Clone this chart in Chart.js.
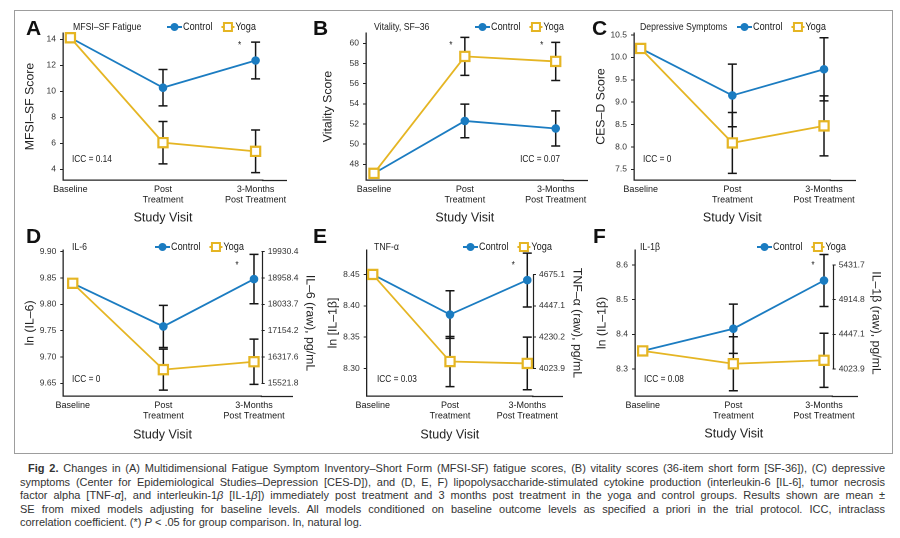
<!DOCTYPE html>
<html><head><meta charset="utf-8">
<script src="https://cdn.jsdelivr.net/npm/chart.js@4.4.1/dist/chart.umd.min.js"></script>
<style>
html,body{margin:0;padding:0;background:#fff;}
#page{position:relative;width:900px;height:538px;overflow:hidden;background:#fff;}
#frame{position:absolute;left:14px;top:10px;width:879px;height:444px;border:1.5px solid #9d9d9d;box-sizing:border-box;}
canvas{position:absolute;}
.letter{position:absolute;font:bold 21px 'Liberation Sans',Arial,sans-serif;line-height:21px;color:#111;}
.cap{position:absolute;white-space:nowrap;font:11px 'Liberation Sans',Arial,sans-serif;line-height:13px;color:#333;}
</style></head>
<body><div id="page"><div id="frame"></div></div>
<script>
// ---------- data ----------
const categories = ['Baseline', ['Post', 'Treatment'], ['3-Months', 'Post Treatment']];
const groupNames = ['Control', 'Yoga'];

// A: MFSI-SF fatigue
const fatigueControl   = [14.12, 10.28, 12.37];
const fatigueControlSE = [0, 1.40, 1.41];
const fatigueYoga      = [14.12, 6.05, 5.38];
const fatigueYogaSE    = [0, 1.63, 1.64];
const fatigueTicks     = [4, 6, 8, 10, 12, 14];
const fatigueStars     = [0, 0, 1];

// B: Vitality SF-36
const vitalityControl   = [47.1, 52.3, 51.55];
const vitalityControlSE = [0, 1.67, 1.74];
const vitalityYoga      = [47.1, 58.7, 58.2];
const vitalityYogaSE    = [0, 1.88, 1.89];
const vitalityTicks     = [48, 50, 52, 54, 56, 58, 60];
const vitalityStars     = [0, 1, 1];

// C: Depressive symptoms (CES-D)
const cesdControl   = [10.2, 9.15, 9.735];
const cesdControlSE = [0, 0.70, 0.705];
const cesdYoga      = [10.2, 8.09, 8.47];
const cesdYogaSE    = [0, 0.68, 0.67];
const cesdTicks     = [7.5, 8.0, 8.5, 9.0, 9.5, 10.0, 10.5];
const cesdStars     = [0, 0, 0];

// D: IL-6 (ln)
const il6Control   = [9.84, 9.758, 9.848];
const il6ControlSE = [0, 0.040, 0.047];
const il6Yoga      = [9.84, 9.676, 9.691];
const il6YogaSE    = [0, 0.039, 0.043];
const il6Ticks     = [9.65, 9.70, 9.75, 9.80, 9.85, 9.90];
const il6Raw       = [19930.4, 18958.4, 18033.7, 17154.2, 16317.6, 15521.8];
const il6Stars     = [0, 0, 1];

// E: TNF-alpha (ln)
const tnfControl   = [8.45, 8.386, 8.441];
const tnfControlSE = [0, 0.038, 0.043];
const tnfYoga      = [8.45, 8.311, 8.308];
const tnfYogaSE    = [0, 0.040, 0.042];
const tnfTicks     = [8.30, 8.35, 8.40, 8.45];
const tnfRaw       = [4675.1, 4447.1, 4230.2, 4023.9];
const tnfStars     = [0, 0, 1];

// F: IL-1beta (ln)
const il1Control   = [8.352, 8.416, 8.555];
const il1ControlSE = [0, 0.071, 0.075];
const il1Yoga      = [8.352, 8.315, 8.325];
const il1YogaSE    = [0, 0.078, 0.078];
const il1Ticks     = [8.3, 8.4, 8.5, 8.6];
const il1Raw       = [5431.7, 4914.8, 4447.1, 4023.9];
const il1Stars     = [0, 0, 1];

// ---------- style / layout ----------
const BLUE = '#1b7cc1', GOLD = '#e5b523', INK = '#222';
const FN = "'Liberation Sans', Arial, sans-serif";
const SZ = {title: 10.5, legend: 11, icc: 10, star: 10, tick: 8.5, cat: 9, yTitle: 12.3, xTitle: 12.5};
const CONDENSE = 0.83;

const panels = [
 {id:'A', title:'MFSI–SF Fatigue', yTitle:'MFSI–SF Score', icc:'ICC = 0.14',
  control:fatigueControl, controlSE:fatigueControlSE, yoga:fatigueYoga, yogaSE:fatigueYogaSE, ticks:fatigueTicks, dec:0, stars:fatigueStars,
  box:{x:15,y:12,w:285,h:218}, area:{L:63,T:33,R:263,B:180}, xr:[-0.08,2.08], yr:[3.177,14.485],
  yTitleX:30, xTitleY:218, xEnd:287, titleX:73, titleY:27, legendX:167, iccX:72, iccY:159, iccAlign:'left', starDx:-16, starY:43,
  letter:{x:26,y:17}},
 {id:'B', title:'Vitality, SF–36', yTitle:'Vitality Score', icc:'ICC = 0.07',
  control:vitalityControl, controlSE:vitalityControlSE, yoga:vitalityYoga, yogaSE:vitalityYogaSE, ticks:vitalityTicks, dec:0, stars:vitalityStars,
  box:{x:300,y:12,w:292,h:218}, area:{L:366,T:33,R:563.7,B:180}, xr:[-0.088,2.088], yr:[46.44,61.02],
  yTitleX:328, xTitleY:218, xEnd:588, titleX:374, titleY:27, legendX:475, iccX:560, iccY:159, iccAlign:'right', starDx:-14, starY:43,
  letter:{x:313,y:17}},
 {id:'C', title:'Depressive Symptoms', yTitle:'CES–D Score', icc:'ICC = 0',
  control:cesdControl, controlSE:cesdControlSE, yoga:cesdYoga, yogaSE:cesdYogaSE, ticks:cesdTicks, dec:1, stars:cesdStars,
  box:{x:592,y:12,w:300,h:218}, area:{L:634,T:33,R:830.7,B:180}, xr:[-0.073,2.073], yr:[7.261,10.545],
  yTitleX:601, xTitleY:218, xEnd:856, titleX:640, titleY:27, legendX:737, iccX:643, iccY:159, iccAlign:'left', starDx:-14, starY:43,
  letter:{x:592,y:17}},
 {id:'D', title:'IL-6', yTitle:'ln (IL–6)', y2Title:'IL–6 (raw), pg/mL', icc:'ICC = 0',
  control:il6Control, controlSE:il6ControlSE, yoga:il6Yoga, yogaSE:il6YogaSE, ticks:il6Ticks, dec:2, raw:il6Raw, stars:il6Stars,
  box:{x:15,y:230,w:307,h:222}, area:{L:63.3,T:250,R:261.7,B:396}, xr:[-0.104,2.085], yr:[9.6259,9.9032],
  yTitleX:30, y2TitleX:310, xTitleY:435, xEnd:293, titleX:72, titleY:247, legendX:155, iccX:72, iccY:379, iccAlign:'left', starDx:-17, starY:263,
  letter:{x:26,y:225}},
 {id:'E', title:'TNF-α', yTitle:'ln [IL–1β]', y2Title:'TNF–α (raw), pg/mL', icc:'ICC = 0.03',
  control:tnfControl, controlSE:tnfControlSE, yoga:tnfYoga, yogaSE:tnfYogaSE, ticks:tnfTicks, dec:2, raw:tnfRaw, stars:tnfStars,
  box:{x:300,y:230,w:292,h:222}, area:{L:366.7,T:250,R:533,B:396}, xr:[-0.078,2.074], yr:[8.256,8.489],
  yTitleX:333, y2TitleX:577, xTitleY:435, xEnd:563, titleX:374, titleY:247, legendX:463, iccX:377, iccY:379, iccAlign:'left', starDx:-14, starY:263,
  letter:{x:313,y:225}},
 {id:'F', title:'IL-1β', yTitle:'ln (IL–1β)', y2Title:'IL–1β (raw), pg/mL', icc:'ICC = 0.08',
  control:il1Control, controlSE:il1ControlSE, yoga:il1Yoga, yogaSE:il1YogaSE, ticks:il1Ticks, dec:1, raw:il1Raw, stars:il1Stars,
  box:{x:592,y:230,w:300,h:222}, area:{L:635,T:250,R:832.7,B:396}, xr:[-0.085,2.096], yr:[8.222,8.643],
  yTitleX:602, y2TitleX:876, xTitleY:434, xEnd:858, titleX:640, titleY:247, legendX:757, iccX:644, iccY:379, iccAlign:'left', starDx:-11, starY:263,
  letter:{x:593,y:225}}
];

const page = document.getElementById('page');

// draws condensed text (horizontal squeeze), returns drawn width
function cText(ctx, text, x, y, size, align) {
  ctx.save();
  ctx.font = size + 'px ' + FN;
  ctx.textAlign = align || 'left';
  ctx.textBaseline = 'middle';
  ctx.translate(x, y);
  ctx.scale(CONDENSE, 1);
  ctx.fillText(text, 0, 0);
  const w = ctx.measureText(text).width * CONDENSE;
  ctx.restore();
  return w;
}

function annotPlugin(p) {
  const ox = p.box.x, oy = p.box.y;
  return {
    id: 'annot' + p.id,
    beforeDatasetsDraw(chart) {
      const {ctx, scales: {x, y}} = chart;
      ctx.save();
      ctx.strokeStyle = '#151515'; ctx.lineWidth = 1.5;
      [[p.control, p.controlSE], [p.yoga, p.yogaSE]].forEach(([vals, se]) => {
        vals.forEach((v, i) => {
          if (!se[i]) return;
          const px = x.getPixelForValue(i);
          const t = y.getPixelForValue(v + se[i]);
          const b = y.getPixelForValue(v - se[i]);
          ctx.beginPath();
          ctx.moveTo(px, t); ctx.lineTo(px, b);
          ctx.moveTo(px - 4.5, t); ctx.lineTo(px + 4.5, t);
          ctx.moveTo(px - 4.5, b); ctx.lineTo(px + 4.5, b);
          ctx.stroke();
        });
      });
      ctx.restore();
    },
    afterDraw(chart) {
      const {ctx, chartArea: a, scales: {x, y}} = chart;
      ctx.save();
      // extension of the x axis line
      ctx.strokeStyle = INK; ctx.lineWidth = 1.3;
      const by = Math.round(a.bottom) + 0.5;
      ctx.beginPath(); ctx.moveTo(a.right - 1, by); ctx.lineTo(p.xEnd - ox, by); ctx.stroke();
      // right raw axis line
      if (p.raw) {
        const lv = p.raw.map(r => Math.log(r));
        const y1 = y.getPixelForValue(Math.max(...lv)), y2 = y.getPixelForValue(Math.min(...lv));
        const rx = Math.round(a.right) + 0.5;
        ctx.lineWidth = 1.2;
        ctx.beginPath(); ctx.moveTo(rx, y1); ctx.lineTo(rx, y2); ctx.stroke();
      }
      ctx.fillStyle = INK;
      // panel title
      cText(ctx, p.title, p.titleX - ox, p.titleY - oy, SZ.title, 'left');
      // legend
      let lx = p.legendX - ox; const ly = p.titleY - oy;
      ctx.strokeStyle = BLUE; ctx.lineWidth = 2;
      ctx.beginPath(); ctx.moveTo(lx, ly); ctx.lineTo(lx + 15, ly); ctx.stroke();
      ctx.fillStyle = BLUE; ctx.beginPath(); ctx.arc(lx + 7.5, ly, 4, 0, Math.PI * 2); ctx.fill();
      lx += 16; ctx.fillStyle = INK;
      lx += cText(ctx, groupNames[0], lx, ly, SZ.legend, 'left') + 9;
      ctx.strokeStyle = GOLD; ctx.lineWidth = 2;
      ctx.beginPath(); ctx.moveTo(lx, ly); ctx.lineTo(lx + 13, ly); ctx.stroke();
      ctx.fillStyle = '#fff'; ctx.fillRect(lx + 2.5, ly - 4, 8, 8);
      ctx.strokeRect(lx + 2.5, ly - 4, 8, 8);
      lx += 14; ctx.fillStyle = INK;
      cText(ctx, groupNames[1], lx, ly, SZ.legend, 'left');
      // ICC
      cText(ctx, p.icc, p.iccX - ox, p.iccY - oy, SZ.icc, p.iccAlign);
      // significance stars
      p.stars.forEach((s, i) => {
        if (!s) return;
        cText(ctx, '*', x.getPixelForValue(i) + p.starDx, p.starY - oy + 2, SZ.star, 'center');
      });
      ctx.restore();
    }
  };
}

function build(p) {
  const cv = document.createElement('canvas');
  cv.width = p.box.w; cv.height = p.box.h;
  Object.assign(cv.style, {left: p.box.x + 'px', top: p.box.y + 'px', width: p.box.w + 'px', height: p.box.h + 'px'});
  page.appendChild(cv);
  const yLH = SZ.yTitle * 1.2, xLH = SZ.xTitle * 1.2;
  const yLeft = p.yTitleX - yLH / 2;
  const yW = p.area.L - yLeft;
  const xBot = p.xTitleY + xLH / 2;
  const xH = xBot - p.area.B;
  let rightEdge = p.area.R, y2W = 0;
  if (p.raw) { rightEdge = p.y2TitleX + yLH / 2; y2W = rightEdge - p.area.R; }
  const padding = {left: yLeft - p.box.x, top: p.area.T - p.box.y, right: p.box.x + p.box.w - rightEdge, bottom: p.box.y + p.box.h - xBot};

  const scales = {
    x: {
      type: 'linear', min: p.xr[0], max: p.xr[1],
      afterFit: s => { s.height = xH; },
      afterBuildTicks: s => { s.ticks = categories.map((c, i) => ({value: i})); },
      ticks: {autoSkip: false, maxRotation: 0, minRotation: 0, padding: 4, color: '#1a1a1a',
              font: {family: FN, size: SZ.cat, lineHeight: 1.2}, callback: v => categories[v]},
      grid: {display: false, drawTicks: false},
      border: {display: true, color: INK, width: 1.3},
      title: {display: true, text: 'Study Visit', color: INK, font: {family: FN, size: SZ.xTitle, lineHeight: 1.2}, padding: 0}
    },
    y: {
      type: 'linear', position: 'left', min: p.yr[0], max: p.yr[1],
      afterFit: s => { s.width = yW; },
      afterBuildTicks: s => { s.ticks = p.ticks.map(v => ({value: v})); },
      ticks: {padding: 4, color: '#333', font: {family: FN, size: SZ.tick}, callback: v => Number(v).toFixed(p.dec)},
      grid: {display: true, drawOnChartArea: false, drawTicks: true, tickLength: 3, color: INK, lineWidth: 1},
      border: {display: true, color: INK, width: 1.3},
      title: {display: true, text: p.yTitle, color: INK, font: {family: FN, size: SZ.yTitle, lineHeight: 1.2}, padding: 0}
    }
  };
  if (p.raw) {
    scales.y2 = {
      type: 'linear', position: 'right', min: p.yr[0], max: p.yr[1],
      afterFit: s => { s.width = y2W; },
      afterBuildTicks: s => { s.ticks = p.raw.map(r => ({value: Math.log(r)})); },
      ticks: {padding: 3, color: '#333', font: {family: FN, size: SZ.tick}, callback: (v, i) => p.raw[i].toFixed(1)},
      grid: {display: true, drawOnChartArea: false, drawTicks: true, tickLength: 3, color: INK, lineWidth: 1},
      border: {display: false},
      title: {display: true, text: p.y2Title, color: INK, font: {family: FN, size: SZ.yTitle, lineHeight: 1.2}, padding: 0}
    };
  }

  new Chart(cv, {
    type: 'line',
    data: {
      datasets: [
        {label: groupNames[0], data: p.control.map((v, i) => ({x: i, y: v})), borderColor: BLUE, backgroundColor: BLUE,
         pointBackgroundColor: BLUE, pointBorderColor: BLUE, borderWidth: 1.8, pointRadius: 3.8, pointBorderWidth: 1,
         pointStyle: 'circle', order: 1, clip: false, fill: false, tension: 0},
        {label: groupNames[1], data: p.yoga.map((v, i) => ({x: i, y: v})), borderColor: GOLD, backgroundColor: '#fff',
         pointBackgroundColor: '#fff', pointBorderColor: GOLD, borderWidth: 1.8, pointRadius: 6.5, pointBorderWidth: 2.2,
         pointStyle: 'rect', order: 0, clip: false, fill: false, tension: 0}
      ]
    },
    options: {
      responsive: false, animation: false, devicePixelRatio: 2,
      layout: {padding},
      plugins: {legend: {display: false}, tooltip: {enabled: false}, title: {display: false}},
      scales
    },
    plugins: [annotPlugin(p)]
  });

  const L = document.createElement('div');
  L.className = 'letter'; L.textContent = p.id;
  L.style.left = p.letter.x + 'px'; L.style.top = p.letter.y + 'px';
  page.appendChild(L);
}
panels.forEach(build);

// ---------- caption ----------
const captionLines = [
  '<b>Fig 2.</b> Changes in (A) Multidimensional Fatigue Symptom Inventory–Short Form (MFSI-SF) fatigue scores, (B) vitality scores (36-item short form [SF-36]), (C) depressive',
  'symptoms (Center for Epidemiological Studies–Depression [CES-D]), and (D, E, F) lipopolysaccharide-stimulated cytokine production (interleukin-6 [IL-6], tumor necrosis',
  'factor alpha [TNF-<i>α</i>], and interleukin-1<i>β</i> [IL-1<i>β</i>]) immediately post treatment and 3 months post treatment in the yoga and control groups. Results shown are mean ±',
  'SE from mixed models adjusting for baseline levels. All models conditioned on baseline outcome levels as specified a priori in the trial protocol. ICC, intraclass',
  'correlation coefficient. (*) <i>P</i> &lt; .05 for group comparison. ln, natural log.'
];
const capX = [28, 20, 20, 20, 20], capTop = 462, capStep = 13.5, capRight = 885;
captionLines.forEach((html, i) => {
  const d = document.createElement('div');
  d.className = 'cap'; d.innerHTML = html;
  d.style.left = capX[i] + 'px'; d.style.top = (capTop + i * capStep) + 'px';
  page.appendChild(d);
  if (i < captionLines.length - 1) {
    const target = capRight - capX[i];
    const w = d.getBoundingClientRect().width;
    const spaces = (d.textContent.match(/ /g) || []).length;
    if (spaces) d.style.wordSpacing = ((target - w) / spaces) + 'px';
  }
});
</script>
</body></html>
